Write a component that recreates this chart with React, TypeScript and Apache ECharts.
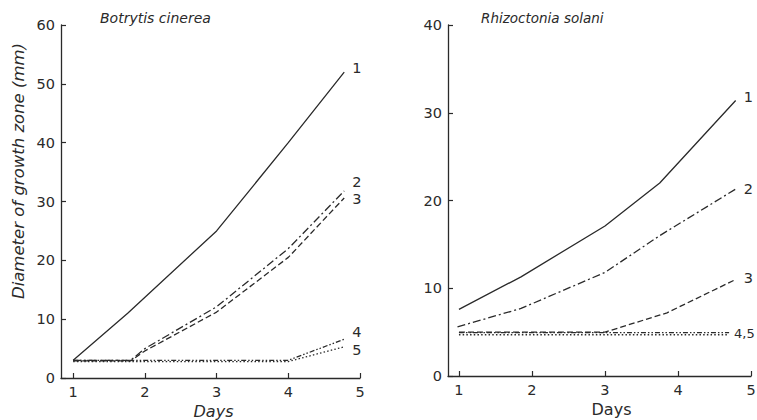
import React, { useEffect, useRef } from "react";
import * as echarts from "echarts";

// Botrytis cinerea (left panel): [day, diameter mm]
const botrytis1 = [[1, 3], [1.76, 11], [3, 25], [4, 40], [4.78, 52]];
const botrytis2 = [[1, 3], [1.8, 3], [2, 5], [3, 12.1], [4, 22], [4.78, 31.8]];
const botrytis3 = [[1, 2.9], [1.8, 2.9], [2, 4.6], [3, 11.2], [4, 20.5], [4.78, 30.6]];
const botrytis4 = [[1, 3], [4, 3], [4.78, 6.6]];
const botrytis5 = [[1, 2.8], [4, 2.8], [4.78, 5.3]];

// Rhizoctonia solani (right panel)
const rhizo1 = [[1, 7.6], [1.85, 11.3], [3, 17.1], [3.75, 22], [4.79, 31.4]];
const rhizo2 = [[0.98, 5.6], [1.85, 7.7], [3, 11.8], [3.75, 16], [4.79, 21.3]];
const rhizo3 = [[1, 5], [3, 5], [3.85, 7.2], [4.79, 11]];
const rhizo4 = [[1, 4.95], [4.7, 4.95]];
const rhizo5 = [[1, 4.7], [4.7, 4.7]];

const dayTicks = [1, 2, 3, 4, 5];
const leftLabels = ["1", "2", "3", "4", "5"];
const rightLabels = ["1", "2", "3", "4,5", ""];

const FONT = "DejaVu Sans";
const INK = "#2a2a2a";

export default function App() {
  const ref = useRef<HTMLDivElement>(null);
  useEffect(() => {
    document.body.style.margin = "0";
    const chart = echarts.init(ref.current!, null, { renderer: "svg" });

    const xAxisBase = (gridIndex: number, min: number) => ({
      type: "value",
      gridIndex,
      min,
      max: 5,
      axisLine: { show: true, onZero: false, lineStyle: { color: INK, width: 1.3 } },
      axisTick: { show: true, inside: true, length: 5, customValues: dayTicks, lineStyle: { color: INK, width: 1.2 } },
      axisLabel: { customValues: dayTicks, margin: 6, color: INK, fontSize: 14.5, fontFamily: FONT },
      splitLine: { show: false },
      name: "Days",
      nameLocation: "middle",
      nameGap: gridIndex === 0 ? 20 : 18,
      nameTextStyle: {
        color: INK,
        fontSize: 16,
        fontFamily: FONT,
        fontStyle: gridIndex === 0 ? "italic" : "normal",
        padding: gridIndex === 0 ? [0, 0, 0, 6] : [0, 0, 0, 24],
      },
    });
    const yAxisBase = (gridIndex: number, max: number) => ({
      type: "value",
      gridIndex,
      min: 0,
      max,
      interval: 10,
      axisLine: { show: true, lineStyle: { color: INK, width: 1.3 } },
      axisTick: { show: true, inside: true, length: 5, lineStyle: { color: INK, width: 1.2 } },
      axisLabel: { margin: 6, color: INK, fontSize: 14.5, fontFamily: FONT },
      splitLine: { show: false },
    });

    const styles: any[] = [
      "solid",
      [8, 3, 2, 3],
      [6, 3],
      [5, 2, 1.5, 2, 1.5, 2],
      [1.5, 2.2],
    ];

    const mk = (data: number[][], idx: number, panel: number, label: string, offY: number, size = 14.5, dist = 8) => ({
      type: "line",
      xAxisIndex: panel,
      yAxisIndex: panel,
      data,
      symbol: "none",
      lineStyle: { color: INK, width: 1.3, type: styles[idx] },
      endLabel: label
        ? {
            show: true,
            formatter: label,
            color: INK,
            fontSize: size,
            fontFamily: FONT,
            distance: dist,
            offset: [0, offY],
          }
        : { show: false },
      silent: true,
    });

    chart.setOption({
      animation: false,
      grid: [
        { left: 61, top: 25, width: 299, height: 353, outerBoundsMode: "none", containLabel: false },
        { left: 448, top: 25, width: 303, height: 351, outerBoundsMode: "none", containLabel: false },
      ],
      xAxis: [xAxisBase(0, 0.83), xAxisBase(1, 0.85)],
      yAxis: [yAxisBase(0, 60), yAxisBase(1, 40)],
      graphic: [
        {
          type: "text",
          left: 100,
          top: 11,
          style: { text: "Botrytis cinerea", fontSize: 14, fontStyle: "italic", fontFamily: FONT, fill: INK },
        },
        {
          type: "text",
          left: 481,
          top: 11,
          style: { text: "Rhizoctonia solani", fontSize: 13.5, fontStyle: "italic", fontFamily: FONT, fill: INK },
        },
        {
          type: "text",
          x: 18,
          y: 171,
          rotation: Math.PI / 2,
          style: {
            text: "Diameter of growth zone (mm)",
            fontSize: 16.5,
            fontStyle: "italic",
            fontFamily: FONT,
            fill: INK,
            align: "center",
            verticalAlign: "middle",
          },
        },
      ],
      series: [
        mk(botrytis1, 0, 0, leftLabels[0], -4),
        mk(botrytis2, 1, 0, leftLabels[1], -9),
        mk(botrytis3, 2, 0, leftLabels[2], 1),
        mk(botrytis4, 3, 0, leftLabels[3], -7),
        mk(botrytis5, 4, 0, leftLabels[4], 3),
        mk(rhizo1, 0, 1, rightLabels[0], -3),
        mk(rhizo2, 1, 1, rightLabels[1], 0),
        mk(rhizo3, 2, 1, rightLabels[2], -1),
        mk(rhizo4, 3, 1, rightLabels[3], 1, 13, 5),
        mk(rhizo5, 4, 1, rightLabels[4], 0),
      ],
    });
    return () => chart.dispose();
  }, []);
  return <div ref={ref} style={{ width: 757, height: 420 }} />;
}
